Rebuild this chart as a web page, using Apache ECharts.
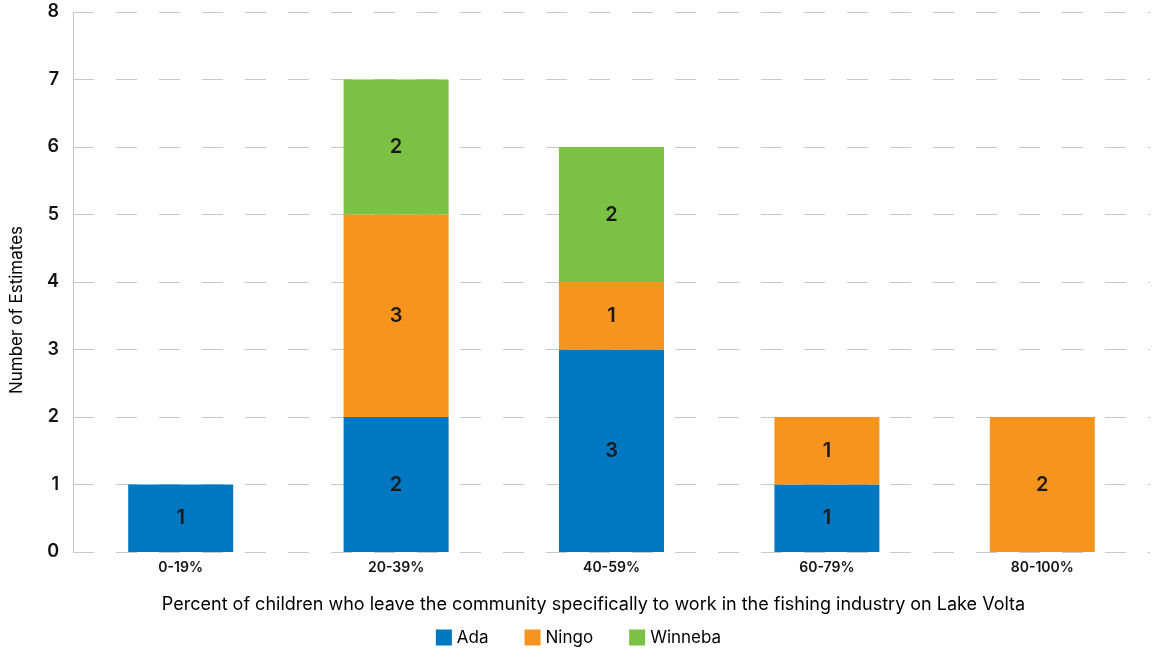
<!DOCTYPE html>
<html><head><meta charset="utf-8">
<script src="https://cdn.jsdelivr.net/npm/echarts@6/dist/echarts.min.js"></script>
<style>html,body{margin:0;padding:0;background:#fff}#c{width:1157px;height:652px}</style>
</head><body><div id="c"></div>
<script>
const categories = ['0-19%', '20-39%', '40-59%', '60-79%', '80-100%'];
const ada = [1, 2, 3, 1, 0];
const ningo = [0, 3, 1, 1, 2];
const winneba = [0, 2, 2, 0, 0];
const yTicks = [0, 1, 2, 3, 4, 5, 6, 7, 8];

const chart = echarts.init(document.getElementById('c'));
const lbl = {show: true, position: 'inside', color: '#1a1a1a', fontSize: 20, fontWeight: 600, fontFamily: 'Inter',
  formatter: p => p.value ? p.value : ''};
function mk(name, data, color) {
  return {name, type: 'bar', stack: 's', data: data.map(v => v === 0 ? null : v), barWidth: 105,
    itemStyle: {color}, label: lbl};
}
chart.setOption({
  animation: false,
  textStyle: {fontFamily: 'Inter'},
  grid: {left: 69, right: 7, top: 12, bottom: 100},
  legend: {bottom: 1, left: 'center', itemWidth: 16, itemHeight: 16, itemGap: 36,
    icon: 'rect', textStyle: {fontSize: 17, color: '#000', fontWeight: 400},
    data: ['Ada', 'Ningo', 'Winneba']},
  xAxis: {type: 'category', data: categories,
    axisLine: {show: false}, axisTick: {show: false},
    axisLabel: {fontSize: 14, color: '#111', fontWeight: 600, margin: 9},
    name: 'Percent of children who leave the community specifically to work in the fishing industry on Lake Volta',
    nameLocation: 'middle', nameGap: 44,
    nameTextStyle: {fontSize: 18, color: '#000', fontWeight: 400, padding: [0, 36, 0, 0]}},
  yAxis: {type: 'value', min: yTicks[0], max: yTicks[yTicks.length - 1], interval: 1,
    axisLine: {show: true, lineStyle: {color: '#c8c8c8', width: 1}},
    axisTick: {show: false},
    axisLabel: {fontSize: 18, color: '#111', fontWeight: 600, margin: 14},
    splitLine: {lineStyle: {color: '#c8c8c8', type: [21, 22], width: 1}},
    name: 'Number of Estimates', nameLocation: 'middle', nameGap: 48,
    nameTextStyle: {fontSize: 17, color: '#000', fontWeight: 400, padding: [0, 56, 0, 0]}},
  series: [mk('Ada', ada, '#0077c1'), mk('Ningo', ningo, '#f7941e'), mk('Winneba', winneba, '#7bc143')]
});
</script></body></html>
